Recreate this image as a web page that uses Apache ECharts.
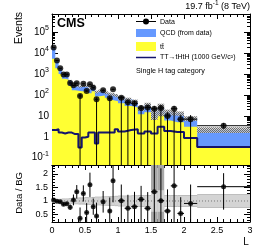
<!DOCTYPE html>
<html>
<head>
<meta charset="utf-8">
<script src="https://cdn.jsdelivr.net/npm/echarts@6/dist/echarts.min.js"></script>
<style>
html,body{margin:0;padding:0;background:#fff;}
#chart{width:266px;height:250px;}
</style>
</head>
<body>
<div id="chart"></div>
<script>
// ---------------- data ----------------
const binEdges = [0,0.05,0.1,0.15,0.2,0.25,0.3,0.35,0.4,0.45,0.5,0.55,0.6,0.65,0.7,0.75,0.8,0.85,0.9,0.95,1.0,1.1,1.2,1.3,1.4,1.5,1.6,1.7,1.8,1.9,2.0,2.2,3.0];
const dataEvents = [19000,4500,1900,970,950,380,290,370,90,345,155,325,223,62,null,167,null,70,187,null,75,45,40,24,25,22,24,10,22,7,7,3.4];
const dataErrUp = [140,67,44,31,31,20,17,19,20,19,12,18,15,15,null,13,null,15,14,null,15,12,12,8,8,8,8,5,8,4,4,1.2];
const dataErrDown = [140,67,44,31,31,20,17,19,90,19,12,18,15,62,null,13,null,70,14,null,75,45,40,24,25,22,24,10,22,7,7,0.9];
const bkgTotal = [18300,4550,1960,1100,1050,490,280,275,250,270,270,205,280,140,160,172,130,111,107,95,74,62,50,23,34,16,24,16,14,13,7.7,2.2];
const ttbarEvents = [5500,1900,1000,600,560,280,170,160,150,150,150,120,150,85,90,95,75,60,55,50,40,30,25,12,15,8,12,6,5,5,3,0.3];
const signalEvents = [2.1,2.3,1.6,1.44,1.6,1.6,1.35,1.35,0.31,0.93,1.0,1.6,1.6,0.48,1.6,1.6,1.6,1.6,1.6,2.3,1.8,2.1,2.3,1.44,1.8,1.44,3.0,1.9,1.7,1.7,0.87,0.33];
const bkgRelUnc = [0.05,0.05,0.06,0.07,0.07,0.08,0.1,0.1,0.1,0.1,0.12,0.12,0.12,0.15,0.15,0.15,0.15,0.18,0.18,0.18,0.2,0.2,0.2,0.25,0.25,0.6,0.6,0.25,0.25,0.25,0.25,0.3];
const ratioValues = [1.04,0.99,0.97,0.88,0.90,0.77,1.04,1.34,0.36,1.28,0.57,1.6,0.79,0.44,null,0.97,null,0.63,1.75,null,1.01,0.73,0.79,1.06,0.73,1.34,1.01,0.63,1.56,0.54,0.91,1.53];
const ratioErrUp = [0.03,0.04,0.05,0.06,0.06,0.1,0.2,0.25,0.4,0.3,0.35,0.45,0.3,0.5,null,0.4,null,0.5,0.8,null,0.6,0.5,0.55,0.5,0.6,1.0,1.2,0.8,1.0,0.6,0.7,0.5];
const ratioErrDown = [0.03,0.04,0.05,0.06,0.06,0.1,0.2,0.25,0.36,0.3,0.35,0.45,0.3,0.44,null,0.4,null,0.63,0.8,null,1.01,0.73,0.79,1.06,0.73,1.34,1.01,0.63,1.56,0.54,0.91,0.85];
const ratioBandOuter = [0.07,0.07,0.08,0.09,0.09,0.1,0.12,0.12,0.13,0.13,0.14,0.14,0.15,0.16,0.16,0.17,0.17,0.18,0.18,0.19,0.2,0.2,0.21,0.22,0.22,1.5,1.5,0.22,0.22,0.22,0.22,0.25];
const ratioBandInner = [0.05,0.05,0.06,0.07,0.07,0.08,0.1,0.1,0.1,0.1,0.12,0.12,0.12,0.14,0.14,0.15,0.15,0.16,0.16,0.17,0.18,0.18,0.19,0.2,0.2,0.4,0.4,0.2,0.2,0.2,0.2,0.22];
const yTickValues = [0.1,1,10,100,1000,10000,100000];
const ratioTickValues = [0.5,1,1.5,2];
const xTickInterval = 0.5;

// ---------------- helpers ----------------
const yMin = 0.045, yMax = 7.5e5, rMin = 0.222, rMax = 2.333;
const FONT = 'Liberation Sans, Arial, Helvetica, sans-serif';
const nBins = binEdges.length - 1;
const centers = [];
for (let i = 0; i < nBins; i++) centers.push((binEdges[i] + binEdges[i+1]) / 2);

function stepPoints(vals) {
  const pts = [];
  for (let i = 0; i < nBins; i++) {
    pts.push([binEdges[i], vals[i]]);
    pts.push([binEdges[i+1], vals[i]]);
  }
  return pts;
}
const logMinor = [];
for (let d = -2; d <= 5; d++) for (let k = 2; k <= 9; k++) {
  const v = k * Math.pow(10, d);
  if (v > yMin && v < yMax) logMinor.push(v);
}
const ratioMinor = [];
for (let v = 0.3; v < rMax; v += 0.1) {
  const r = Math.round(v * 10) / 10;
  if (Math.abs(r * 2 - Math.round(r * 2)) > 1e-6) ratioMinor.push(r);
}

function hatchPattern() {
  const c = document.createElement('canvas');
  c.width = 4; c.height = 4;
  const g = c.getContext('2d');
  g.fillStyle = 'rgba(205,205,205,0.8)';
  g.fillRect(0, 0, 4, 4);
  g.fillStyle = 'rgba(100,100,100,0.9)';
  [[0,0],[2,0],[1,1],[3,1],[0,2],[2,2],[1,3],[3,3]].forEach(p => g.fillRect(p[0], p[1], 1, 1));
  return c;
}
const hatch = hatchPattern();

const hatchData = [], dataErrItems = [], dataPts = [];
const ratioErrItems = [], ratioPts = [], bandOuterData = [], bandInnerData = [];
for (let i = 0; i < nBins; i++) {
  const t = bkgTotal[i], u = bkgRelUnc[i];
  hatchData.push([binEdges[i], binEdges[i+1], Math.max(t * (1 - u), yMin), t * (1 + u)]);
  bandOuterData.push([binEdges[i], binEdges[i+1], 1 - ratioBandOuter[i], 1 + ratioBandOuter[i]]);
  bandInnerData.push([binEdges[i], binEdges[i+1], 1 - ratioBandInner[i], 1 + ratioBandInner[i]]);
  const v = dataEvents[i];
  if (v != null) {
    dataPts.push([centers[i], v]);
    dataErrItems.push([centers[i], Math.max(v - dataErrDown[i], yMin), v + dataErrUp[i], binEdges[i], binEdges[i+1], v]);
  }
  const r = ratioValues[i];
  if (r != null) {
    ratioPts.push([centers[i], r]);
    ratioErrItems.push([centers[i], Math.max(r - ratioErrDown[i], rMin - 0.5), r + ratioErrUp[i], binEdges[i], binEdges[i+1], r]);
  }
}

function errBarItem(color) {
  return function (params, api) {
    const c = api.value(0), lo = api.value(1), hi = api.value(2);
    const xl = api.value(3), xh = api.value(4), v = api.value(5);
    const pLo = api.coord([c, lo]), pHi = api.coord([c, hi]);
    const pL = api.coord([xl, v]), pR = api.coord([xh, v]);
    return {type: 'group', children: [
      {type: 'line', shape: {x1: pLo[0], y1: pLo[1], x2: pHi[0], y2: pHi[1]}, style: {stroke: color, lineWidth: 1}},
      {type: 'line', shape: {x1: pL[0], y1: pL[1], x2: pR[0], y2: pR[1]}, style: {stroke: color, lineWidth: 1}}
    ]};
  };
}
function bandItem(fill) {
  return function (params, api) {
    const p1 = api.coord([api.value(0), api.value(3)]);
    const p2 = api.coord([api.value(1), api.value(2)]);
    return {type: 'rect', shape: {x: p1[0], y: p1[1], width: p2[0] - p1[0], height: p2[1] - p1[1]}, style: {fill: fill}};
  };
}

function xAx(grid, pos, labels) {
  return {
    type: 'value', gridIndex: grid, position: pos, min: 0, max: 3, interval: xTickInterval,
    axisLine: {show: true, onZero: false, lineStyle: {color: '#000', width: 1}},
    axisTick: {show: true, inside: true, length: 5, lineStyle: {color: '#000'}},
    minorTick: {show: true, splitNumber: 5, length: 3, lineStyle: {color: '#000'}},
    axisLabel: {show: labels, color: '#000', fontSize: 9, fontFamily: FONT, margin: 4},
    splitLine: {show: false}, minorSplitLine: {show: false}
  };
}
const supRich = {sup: {fontSize: 7, fontFamily: FONT, color: '#000', padding: [0, 0, 8, 0]}};
function logLabel(v) {
  const e = Math.round(Math.log10(v));
  if (e === 0) return '1';
  if (e === 1) return '10';
  return '10{sup|' + e + '}';
}
function yLog(pos, major) {
  return {
    type: 'log', logBase: 10, gridIndex: 0, position: pos, min: yMin, max: yMax,
    axisLine: {show: major, onZero: false, lineStyle: {color: '#000', width: 1}},
    axisTick: {show: true, inside: true, length: major ? 6 : 3, customValues: major ? yTickValues : logMinor, lineStyle: {color: '#000'}},
    axisLabel: {show: major && pos === 'left', customValues: yTickValues, formatter: logLabel, rich: supRich,
                color: '#000', fontSize: 10, fontFamily: FONT, margin: 3},
    splitLine: {show: false}
  };
}
function yRatio(pos, major) {
  return {
    type: 'value', gridIndex: 1, position: pos, min: rMin, max: rMax,
    axisLine: {show: major, onZero: false, lineStyle: {color: '#000', width: 1}},
    axisTick: {show: true, inside: true, length: major ? 6 : 3, customValues: major ? ratioTickValues : ratioMinor, lineStyle: {color: '#000'}},
    axisLabel: {show: major && pos === 'left', customValues: ratioTickValues, color: '#000', fontSize: 9, fontFamily: FONT, margin: 4},
    splitLine: {show: false}
  };
}

const chart = echarts.init(document.getElementById('chart'), null, {renderer: 'canvas', width: 266, height: 250});
const option = {
  animation: false,
  backgroundColor: '#fff',
  grid: [
    {left: 52, right: 16, top: 14, height: 151, outerBoundsMode: 'none', containLabel: false},
    {left: 52, right: 16, top: 165, height: 57, outerBoundsMode: 'none', containLabel: false}
  ],
  xAxis: [xAx(0, 'bottom', false), xAx(0, 'top', false), xAx(1, 'bottom', true), xAx(1, 'top', false)],
  yAxis: [yLog('left', true), yLog('right', true), yLog('left', false), yLog('right', false),
          yRatio('left', true), yRatio('right', true), yRatio('left', false), yRatio('right', false)],
  series: [
    {type: 'line', xAxisIndex: 0, yAxisIndex: 0, data: stepPoints(bkgTotal), symbol: 'none',
     lineStyle: {width: 0}, areaStyle: {color: '#6699ff', opacity: 1, origin: 'start'}, z: 1},
    {type: 'line', xAxisIndex: 0, yAxisIndex: 0, data: stepPoints(ttbarEvents), symbol: 'none',
     lineStyle: {width: 0}, areaStyle: {color: '#ffff33', opacity: 1, origin: 'start'}, z: 2},
    {type: 'custom', xAxisIndex: 0, yAxisIndex: 0, data: hatchData, clip: true,
     encode: {x: [0, 1], y: [2, 3]}, renderItem: bandItem({image: hatch, repeat: 'repeat'}), z: 3},
    {type: 'line', xAxisIndex: 0, yAxisIndex: 0, data: stepPoints(signalEvents), symbol: 'none',
     lineStyle: {width: 2, color: '#14146e'}, z: 4},
    {type: 'custom', xAxisIndex: 0, yAxisIndex: 0, data: dataErrItems, clip: true,
     encode: {x: [0, 3, 4], y: [1, 2, 5]}, renderItem: errBarItem('#000'), z: 5},
    {type: 'scatter', xAxisIndex: 0, yAxisIndex: 0, data: dataPts, symbol: 'circle', symbolSize: 6,
     itemStyle: {color: '#000'}, z: 6},
    {type: 'custom', xAxisIndex: 2, yAxisIndex: 4, data: bandOuterData, clip: true,
     encode: {x: [0, 1], y: [2, 3]}, renderItem: bandItem('#a8a8a8'), z: 1},
    {type: 'custom', xAxisIndex: 2, yAxisIndex: 4, data: bandInnerData, clip: true,
     encode: {x: [0, 1], y: [2, 3]}, renderItem: bandItem('#d4d4d4'), z: 2},
    {type: 'line', xAxisIndex: 2, yAxisIndex: 4, data: [[0, 1], [3, 1]], symbol: 'none',
     lineStyle: {width: 1, color: '#777', type: [1, 2]}, z: 3},
    {type: 'custom', xAxisIndex: 2, yAxisIndex: 4, data: ratioErrItems, clip: true,
     encode: {x: [0, 3, 4], y: [1, 2, 5]}, renderItem: errBarItem('#000'), z: 5},
    {type: 'scatter', xAxisIndex: 2, yAxisIndex: 4, data: ratioPts, symbol: 'circle', symbolSize: 5,
     itemStyle: {color: '#000'}, z: 6}
  ],
  graphic: [
    {type: 'text', x: 19, y: 28, rotation: Math.PI / 2,
     style: {text: 'Events', font: '10.5px ' + FONT, fill: '#000', align: 'center', verticalAlign: 'middle'}},
    {type: 'text', x: 19, y: 193, rotation: Math.PI / 2,
     style: {text: 'Data / BG', font: '9.5px ' + FONT, fill: '#000', align: 'center', verticalAlign: 'middle'}},
    {type: 'text', x: 246, y: 242,
     style: {text: 'L', font: '10px ' + FONT, fill: '#000', align: 'center', verticalAlign: 'middle'}},
    {type: 'text', x: 57, y: 24,
     style: {text: 'CMS', font: 'bold 12.5px ' + FONT, fill: '#000', align: 'left', verticalAlign: 'middle'}},
    {type: 'text', x: 250, y: 7,
     style: {text: '19.7 fb{sup|-1} (8 TeV)', font: '9px ' + FONT, fill: '#000', align: 'right', verticalAlign: 'middle',
             rich: {sup: {fontSize: 6.5, fontFamily: FONT, fill: '#000', padding: [0, 0, 7, 0]}}}},
    {type: 'line', shape: {x1: 136, y1: 21.5, x2: 156, y2: 21.5}, style: {stroke: '#000', lineWidth: 1}},
    {type: 'circle', shape: {cx: 146, cy: 21.5, r: 3}, style: {fill: '#000'}},
    {type: 'text', x: 160, y: 22, style: {text: 'Data', font: '7px ' + FONT, fill: '#000', verticalAlign: 'middle'}},
    {type: 'rect', shape: {x: 136, y: 29, width: 20, height: 8}, style: {fill: '#6699ff'}},
    {type: 'text', x: 160, y: 33.5, style: {text: 'QCD (from data)', font: '7px ' + FONT, fill: '#000', verticalAlign: 'middle'}},
    {type: 'rect', shape: {x: 136, y: 42, width: 20, height: 9}, style: {fill: '#ffff33'}},
    {type: 'text', x: 160, y: 47, style: {text: 't\u0074\u0304', font: '7px ' + FONT, fill: '#000', verticalAlign: 'middle'}},
    {type: 'line', shape: {x1: 136, y1: 57.5, x2: 156, y2: 57.5}, style: {stroke: '#14146e', lineWidth: 1.5}},
    {type: 'text', x: 160, y: 57.5, style: {text: 'TT\u2192tHtH (1000 GeV/c\u00b2)', font: '7px ' + FONT, fill: '#000', verticalAlign: 'middle'}},
    {type: 'text', x: 136, y: 71, style: {text: 'Single H tag category', font: '7.2px ' + FONT, fill: '#000', verticalAlign: 'middle'}}
  ]
};
chart.setOption(option);
</script>
</body>
</html>
